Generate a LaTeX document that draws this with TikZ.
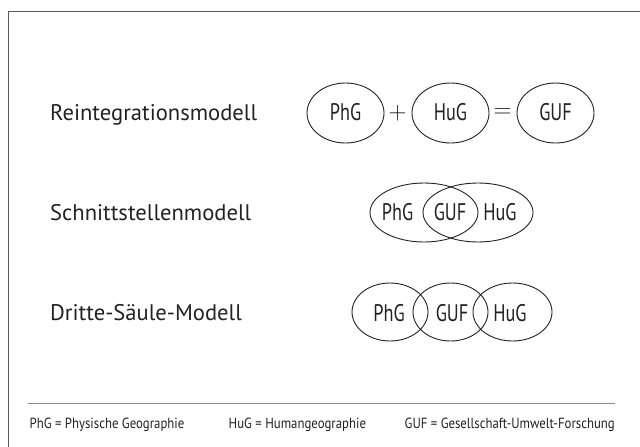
\documentclass[tikz,border=0pt]{standalone}
\usepackage{fontspec}
\setmainfont{PT Sans}
\newfontfamily\condfont[FakeStretch=0.76]{PT Sans}
\newfontfamily\legfont[FakeStretch=0.87]{PT Sans}
\usetikzlibrary{shapes.geometric}
\definecolor{ink}{HTML}{222222}
\definecolor{framegray}{HTML}{5A5A5A}
\definecolor{rulegray}{HTML}{8A8A8A}
\tikzset{
  oval/.style={ellipse, draw=ink, line width=0.9pt, inner sep=0pt},
  title/.style={anchor=base west, inner sep=0pt, text=ink, font=\fontsize{22.6}{26}\selectfont},
  lbl/.style={inner sep=0pt, text=ink, font=\condfont\fontsize{24}{28}\selectfont},
  opsym/.style={inner sep=0pt, text=ink, font=\fontsize{24}{28}\selectfont},
  legend/.style={anchor=base west, inner sep=0pt, text=ink, font=\legfont\fontsize{14.7}{17}\selectfont},
}
\begin{document}
\begin{tikzpicture}[x=1pt,y=-1pt]
\useasboundingbox (0,0) rectangle (640,447);
% frame (open at right and bottom)
\coordinate (fb) at (8.5,447);
\coordinate (fc) at (8.5,11.5);
\coordinate (fr) at (640,11.5);
\draw[framegray, line width=1.6pt] (fb) -- (fc) -- (fr);

% titles
\node[title] (t1) at (50,120) {Reintegrationsmodell};
\node[title] (t2) at (50,220) {Schnittstellenmodell};
\node[title] (t3) at (50,320) {Dritte-Säule-Modell};

% row 1
\node[oval, minimum width=77pt, minimum height=60pt] (a1) at (345.5,113) {};
\node[oval, minimum width=77pt, minimum height=60pt] (a2) at (450.5,113) {};
\node[oval, minimum width=77pt, minimum height=60pt] (a3) at (555.5,113) {};
\node[lbl] (a1t) at (345.5,112) {PhG};
\node[lbl] (a2t) at (450.5,112) {HuG};
\node[lbl] (a3t) at (555.5,112) {GUF};
\node[opsym] (plus) at (397.5,113) {$+$};
\node[opsym] (eq) at (502.5,113) {$=$};

% row 2
\node[oval, minimum width=108pt, minimum height=59pt] (b1) at (424,212.5) {};
\node[oval, minimum width=110pt, minimum height=59pt] (b2) at (478,212.5) {};
\node[lbl] (b1t) at (397.5,212) {PhG};
\node[lbl] (b3t) at (450,212) {GUF};
\node[lbl] (b2t) at (500,212) {HuG};

% row 3
\node[oval, minimum width=76pt, minimum height=58pt] (c1) at (390,312) {};
\node[oval, minimum width=75pt, minimum height=58pt] (c2) at (450.5,312) {};
\node[oval, minimum width=79pt, minimum height=58pt] (c3) at (512.5,312) {};
\node[lbl] (c1t) at (389,313) {PhG};
\node[lbl] (c2t) at (452,313) {GUF};
\node[lbl] (c3t) at (510,313) {HuG};

% separator
\coordinate (s1) at (28,403);
\coordinate (s2) at (615,403);
\draw[rulegray, line width=0.8pt] (s1) -- (s2);

% legend
\node[legend] (l1) at (29.5,428) {PhG = Physische Geographie};
\node[legend] (l2) at (228.5,428) {HuG = Humangeographie};
\node[legend, anchor=base east] (l3) at (615,428) {GUF = Gesellschaft-Umwelt-Forschung};
\end{tikzpicture}
\end{document}
